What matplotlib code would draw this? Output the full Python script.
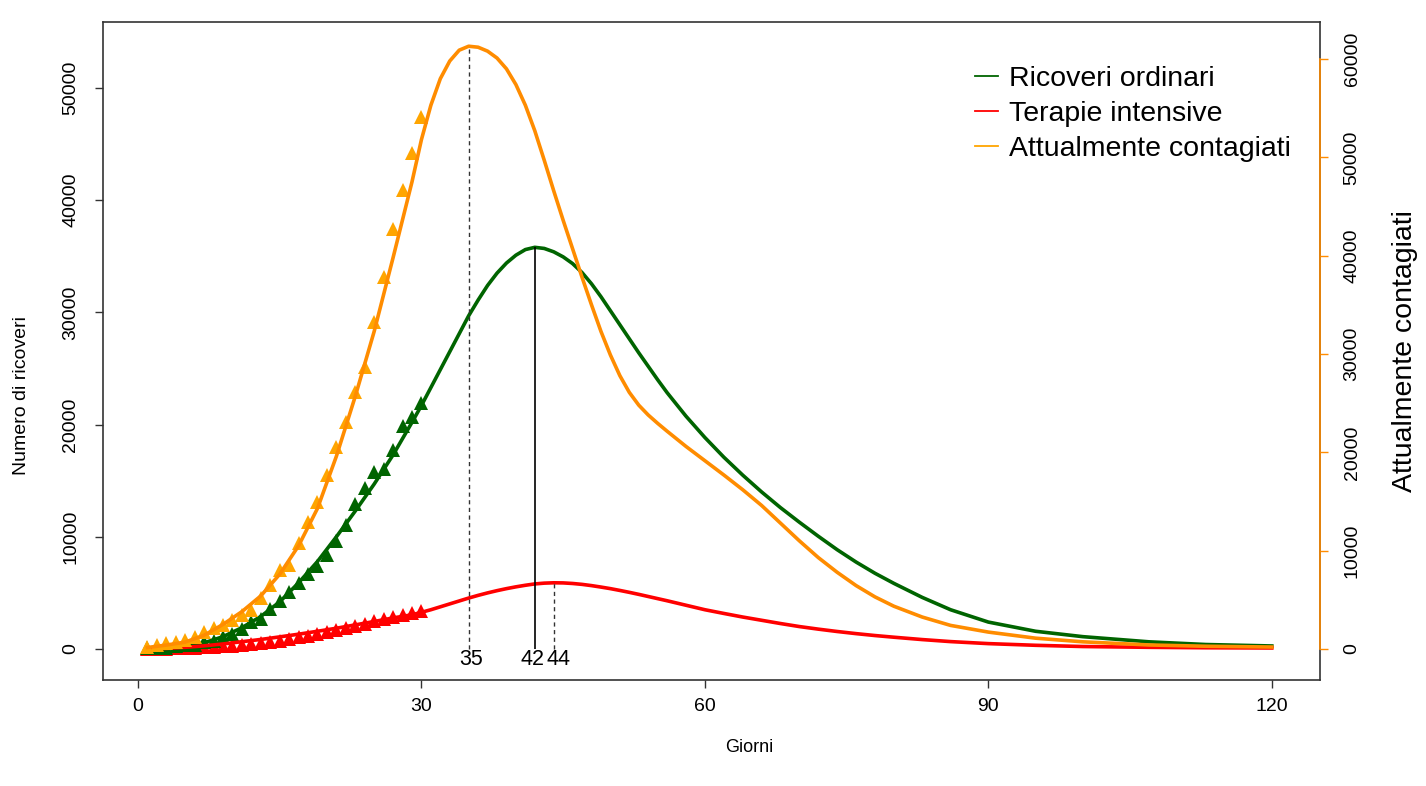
import numpy as np
import matplotlib.pyplot as plt
from matplotlib.lines import Line2D

plt.rcParams['font.family'] = ['Liberation Sans', 'DejaVu Sans']

# dati osservati (primi 30 giorni)
giorni_oss = list(range(1, 31))
ricoveri_oss = [100, 115, 130, 250, 345, 400, 640, 740, 1030, 1350, 1790, 2390, 2650, 3560, 4320,
                5040, 5840, 6650, 7430, 8370, 9660, 11030, 12890, 14360, 15760, 16020, 17710, 19850, 20690, 21940]
terapie_oss = [30, 35, 40, 55, 65, 105, 140, 165, 230, 295, 350, 460, 570, 650, 730,
               880, 1030, 1150, 1330, 1520, 1670, 1850, 2060, 2260, 2500, 2650, 2860, 3010, 3200, 3400]
contagiati_oss = [200, 410, 610, 710, 920, 1220, 1730, 2140, 2440, 2950, 3460, 3970, 5190, 6510, 8030,
                  8540, 10780, 12920, 14950, 17700, 20540, 23090, 26140, 28680, 33250, 37830, 42710, 46680, 50440, 54100]

# curve del modello
giorni_mod = [1, 3, 5, 7, 9, 11, 13, 15, 17, 19, 21, 23, 25, 27,
              29, 30, 31, 32, 33, 34, 35, 36, 37, 38, 39, 40, 41, 42, 43, 44, 45, 46, 47, 48, 49, 50,
              51, 52, 53, 54, 55, 56,
              58, 60, 62, 64, 66, 68, 70, 72, 74, 76, 78, 80, 83, 86, 90, 95, 100, 107, 113, 120]
ricoveri_mod = [30, 100, 250, 550, 1100, 1900, 2900, 4200, 5900, 7800, 10000, 12300, 14700, 17300,
                20200, 21700, 23300, 24900, 26500, 28100, 29700, 31100, 32400, 33500, 34400, 35100, 35600,
                35800, 35700, 35400, 34950, 34350, 33550, 32550, 31400, 30150,
                28900, 27650, 26400, 25200, 24000, 22850,
                20750, 18850, 17100, 15500, 14000, 12600, 11300, 10050, 8850, 7750, 6750, 5850,
                4600, 3500, 2400, 1580, 1100, 640, 400, 270]
terapie_mod = [0, 50, 150, 280, 450, 650, 850, 1080, 1320, 1580, 1850, 2150, 2450, 2770,
               3050, 3270, 3500, 3760, 4020, 4280, 4540, 4780, 5000, 5200, 5380, 5540, 5680,
               5800, 5870, 5900, 5890, 5840, 5760, 5650, 5520, 5380,
               5220, 5050, 4870, 4680, 4490, 4300,
               3900, 3500, 3170, 2850, 2560, 2270, 2000, 1770, 1560, 1370, 1200, 1050,
               840, 660, 480, 330, 220, 150, 110, 90]
contagiati_mod = [150, 400, 700, 1400, 2500, 3800, 5400, 7600, 10500, 14300, 19600, 25700, 32300, 39800,
                  47500, 51800, 55300, 58000, 59800, 60900, 61300, 61200, 60800, 60100, 59000, 57400, 55300,
                  52700, 49700, 46600, 43600, 40700, 37800, 35000, 32300, 29900,
                  27800, 26100, 24800, 23800, 22950, 22150,
                  20600, 19150, 17700, 16200, 14600, 12800, 11000, 9300, 7800, 6450, 5300, 4350,
                  3250, 2400, 1720, 1100, 730, 410, 280, 200]

etichette = ['Ricoveri ordinari', 'Terapie intensive', 'Attualmente contagiati']

fig = plt.figure(figsize=(14.26, 7.86), dpi=100)
ax = fig.add_axes([103/1426, 1-680/786, 1217/1426, 658/786])
ax.set_xlim(-3.7, 125.1)
ax.set_ylim(-2763, 55883)

ax.plot(giorni_oss, terapie_oss, '^', color='red', ms=10.5, mew=0)
ax.plot(giorni_oss, ricoveri_oss, '^', color='darkgreen', ms=10.5, mew=0)
ax.plot(giorni_mod, ricoveri_mod, color='darkgreen', lw=2.6)
ax.plot(giorni_mod, terapie_mod, color='red', lw=2.6)

# asse destro per i contagiati
ax2 = ax.twinx()
ax2.set_ylim(-3153, 63765)
ax2.plot(giorni_oss, contagiati_oss, '^', color='orange', ms=10.5, mew=0)
ax2.plot(giorni_mod, contagiati_mod, color='darkorange', lw=2.6)

# picchi
tratteggio = (0, (3, 2.5))
i_c = int(np.argmax(contagiati_mod))
i_r = int(np.argmax(ricoveri_mod))
i_t = int(np.argmax(terapie_mod))
ax2.vlines(giorni_mod[i_c], 0, contagiati_mod[i_c], colors='#333333', linestyles=tratteggio, lw=1)
ax.vlines(giorni_mod[i_r], 0, ricoveri_mod[i_r], colors='black', lw=1.2)
ax.vlines(giorni_mod[i_t], 0, terapie_mod[i_t], colors='#333333', linestyles=tratteggio, lw=1)
# piccolo scostamento orizzontale delle etichette (in punti)
for i, dx in [(i_c, 1.8), (i_r, -1.5), (i_t, 3.6)]:
    ax.annotate(str(giorni_mod[i]), (giorni_mod[i], -980), xytext=(dx, 0), textcoords='offset points',
                ha='center', va='center', fontsize=15.5)

# assi
ax.set_xticks([0, 30, 60, 90, 120])
ax.set_yticks(range(0, 50001, 10000))
ax.tick_params(direction='out', length=6, width=1, labelsize=14, color='#333333')
ax.tick_params(axis='x', pad=7)
ax.tick_params(axis='y', pad=11)
for t in ax.get_yticklabels():
    t.set_rotation(90)
    t.set_va('center')
for s in ax.spines.values():
    s.set_color('#333333')
    s.set_linewidth(1.2)

ax2.set_yticks(range(0, 60001, 10000))
ax2.tick_params(direction='out', length=6, width=1, labelsize=14, color='darkorange', pad=11)
for t in ax2.get_yticklabels():
    t.set_rotation(90)
    t.set_va('center')
for k in ['top', 'bottom', 'left']:
    ax2.spines[k].set_visible(False)
ax2.spines['right'].set_color('darkorange')
ax2.spines['right'].set_linewidth(1.2)
ax2.spines['right'].set_bounds(0, 60000)

ax.set_xlabel('Giorni', fontsize=13)
ax.xaxis.set_label_coords(0.531, -0.103)
ax.xaxis.label.set_va('center')
ax.set_ylabel('Numero di ricoveri', fontsize=14)
ax.yaxis.set_label_coords(-0.0666, 0.433)
ax.yaxis.label.set_va('center')
ax2.set_ylabel('Attualmente contagiati', fontsize=20.5)
ax2.yaxis.set_label_coords(1.070, 0.5)
ax2.yaxis.label.set_va('center')

# legenda
maniglie = [Line2D([], [], color='darkgreen', lw=1.3),
            Line2D([], [], color='red', lw=1.3),
            Line2D([], [], color='orange', lw=1.3)]
fig.legend(maniglie, etichette, loc='upper left', bbox_to_anchor=(975/1426, 1-66/786),
           frameon=False, fontsize=20.5, handlelength=0.8, handletextpad=0.4,
           labelspacing=0.32, borderpad=0, borderaxespad=0)

fig.savefig('out.png', dpi=100)
